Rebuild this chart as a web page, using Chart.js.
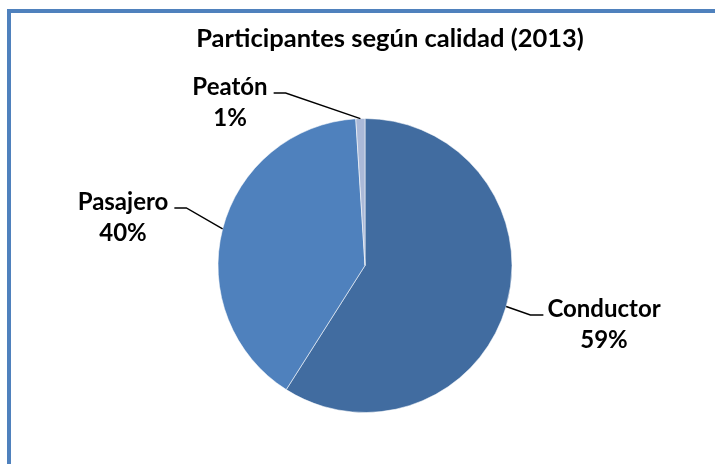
<!DOCTYPE html>
<html>
<head>
<meta charset="utf-8">
<script src="https://cdn.jsdelivr.net/npm/chart.js@4"></script>
<style>
  body { margin: 0; background: #fff; }
  #wrap { position: relative; width: 715px; height: 464px; overflow: hidden; }
  /* only the top and left edges of the chart frame are in view */
  #frame { position: absolute; left: 7px; top: 9px; width: 800px; height: 600px;
           border-top: 4px solid #4f81bd; border-left: 4px solid #4f81bd; }
  canvas { position: absolute; left: 0; top: 0; }
</style>
</head>
<body>
<div id="wrap">
  <div id="frame"></div>
  <canvas id="pieChart" width="715" height="464"></canvas>
</div>
<script>
// data
const categories = ['Conductor', 'Pasajero', 'Peatón'];
const shares = [59, 40, 1];
const chartTitle = 'Participantes según calidad (2013)';

// styling
const sliceColors = ['#416ca0', '#4f81bd', '#aab9d8'];
// data label spots: text centre x, baseline of first line, side of the pie
const labelSpots = [
  { x: 604, y: 317, side: 'right' },
  { x: 123, y: 210, side: 'left' },
  { x: 230, y: 95, side: 'left' }
];
const labelFont = 'bold 24px Lato';
const titleFont = 'bold 25.5px Lato';

const total = shares.reduce((a, b) => a + b, 0);

// title, drawn a bit right of the pie centre like the original
const titlePlugin = {
  id: 'titleText',
  afterDraw(chart) {
    const ctx = chart.ctx;
    ctx.save();
    ctx.font = titleFont;
    ctx.fillStyle = '#000';
    ctx.textAlign = 'center';
    ctx.textBaseline = 'alphabetic';
    ctx.fillText(chartTitle, 390, 47);
    ctx.restore();
  }
};

// labels outside the pie with leader lines
const pieLabels = {
  id: 'pieLabels',
  afterDatasetsDraw(chart) {
    const ctx = chart.ctx;
    const meta = chart.getDatasetMeta(0);
    ctx.save();
    ctx.font = labelFont;
    ctx.fillStyle = '#000';
    ctx.strokeStyle = '#000';
    ctx.lineWidth = 1.4;
    meta.data.forEach((arc, i) => {
      const p = arc.getProps(['x', 'y', 'startAngle', 'endAngle', 'outerRadius'], true);
      const mid = (p.startAngle + p.endAngle) / 2;
      const sx = p.x + Math.cos(mid) * p.outerRadius;
      const sy = p.y + Math.sin(mid) * p.outerRadius;
      const spot = labelSpots[i];
      const w = ctx.measureText(categories[i]).width;
      const edge = spot.side === 'right' ? spot.x - w / 2 - 4 : spot.x + w / 2 + 6;
      const elbow = spot.side === 'right' ? edge - 13 : edge + 12;
      const ly = spot.y - 2;
      ctx.beginPath();
      ctx.moveTo(sx, sy);
      ctx.lineTo(elbow, ly);
      ctx.lineTo(edge, ly);
      ctx.stroke();

      ctx.textAlign = 'center';
      ctx.textBaseline = 'alphabetic';
      ctx.fillText(categories[i], spot.x, spot.y);
      ctx.fillText(Math.round(shares[i] / total * 100) + '%', spot.x, spot.y + 31);
    });
    ctx.restore();
  }
};

const pieChart = new Chart(document.getElementById('pieChart').getContext('2d'), {
  type: 'pie',
  data: {
    labels: categories,
    datasets: [{
      data: shares,
      backgroundColor: sliceColors,
      borderColor: 'rgba(255,255,255,0.55)',
      borderWidth: 1
    }]
  },
  options: {
    responsive: false,
    animation: false,
    layout: { padding: { top: 118, bottom: 51, left: 150, right: 135 } },
    plugins: {
      legend: { display: false },
      tooltip: { enabled: false },
      title: { display: false }
    }
  },
  plugins: [pieLabels, titlePlugin]
});
</script>
</body>
</html>
